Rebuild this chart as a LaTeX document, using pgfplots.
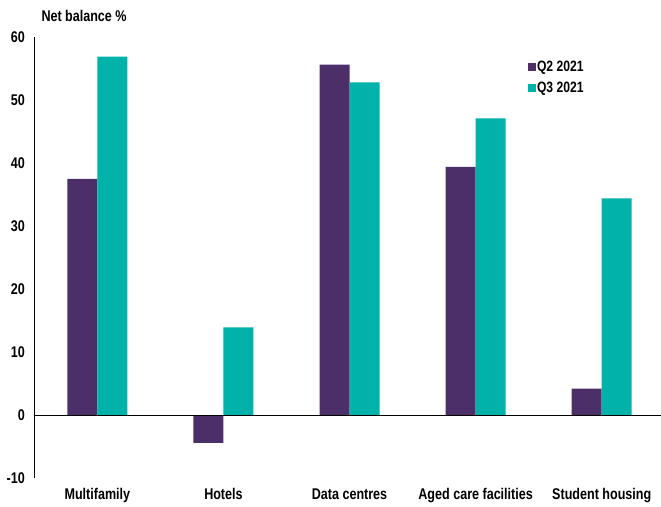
\documentclass[border=0pt]{standalone}
\usepackage{fontspec}
\setmainfont{Liberation Sans}[FakeStretch=0.81]
\usepackage{pgfplots}
\pgfplotsset{compat=1.18}
\definecolor{qpurple}{RGB}{76,46,104}
\definecolor{qteal}{RGB}{0,178,169}
\begin{document}
\begin{tikzpicture}
\begin{axis}[
  scale only axis, width=626.7pt, height=441pt,
  xmin=-0.5, xmax=4.47, ymin=-10, ymax=60,
  axis y line*=left, axis x line*=bottom,
  x axis line style={draw=none},
  y axis line style={black, line width=0.8pt, -},
  ytick={-10,0,10,20,30,40,50,60},
  xtick={0,1,2,3,4},
  xticklabels={Multifamily,Hotels,Data centres,Aged care facilities,Student housing},
  major tick length=0pt,
  /pgf/number format/assume math mode=true,
  tick label style={font=\fontsize{15.5}{18}\selectfont\bfseries},
  xticklabel style={yshift=-7pt},
  yticklabel style={xshift=-6pt},
  ybar=0pt, bar width=30pt,
  legend style={at={(rel axis cs:0.7875,0.948)}, anchor=north west, draw=none, fill=none,
    font=\fontsize{15}{17}\selectfont\bfseries, row sep=7pt, inner sep=0pt,
    nodes={inner sep=1pt}},
  legend image code/.code={\fill[#1,draw=none] (0pt,-4pt) rectangle (8pt,4pt);},
  legend cell align=left,
  clip=false,
]
\addplot[fill=qpurple, draw=none] coordinates {(0,37.5) (1,-4.44) (2,55.6) (3,39.4) (4,4.2)};
\addplot[fill=qteal, draw=none] coordinates {(0,56.9) (1,13.9) (2,52.8) (3,47.1) (4,34.4)};
\legend{Q2 2021, Q3 2021}
\draw[black, line width=0.8pt] (rel axis cs:0,0.142857) -- (rel axis cs:1,0.142857);
\node[anchor=base west, inner sep=0pt, font=\fontsize{15.5}{18}\selectfont\bfseries] at ([xshift=7pt,yshift=16pt]rel axis cs:0,1) {Net balance \%};
\end{axis}
\pgfresetboundingbox
\useasboundingbox (-34.3pt,-28pt) rectangle (626.7pt,478pt);
\end{tikzpicture}
\end{document}
